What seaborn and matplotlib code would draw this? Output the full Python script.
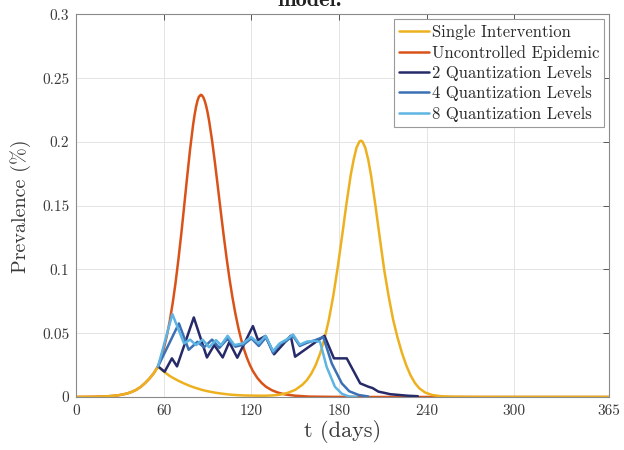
import matplotlib
matplotlib.use("Agg")
import matplotlib.pyplot as plt
import seaborn as sns

# ---- data -------------------------------------------------------------
uncontrolled_day = [0, 6, 12, 18, 22, 26, 29, 32, 35, 38,
                    41, 44, 47, 50, 53, 56, 58, 60, 62, 64,
                    66, 68, 70, 72, 74, 76, 78, 80, 81, 82,
                    83, 84, 85.3, 86, 87, 88, 89, 90, 91, 93,
                    95, 97, 99, 101, 103, 105, 107, 109, 111, 113,
                    115, 117, 119, 121, 124, 127, 130, 134, 138, 143,
                    150, 160, 175, 200, 250, 365]
uncontrolled_prev = [0.00005, 0.0001, 0.0002, 0.0004, 0.0006, 0.0010, 0.0014, 0.0020, 0.0028, 0.0040,
                     0.0056, 0.0078, 0.0108, 0.0143, 0.0185, 0.0241, 0.0305, 0.0383, 0.0479, 0.0594,
                     0.0734, 0.0896, 0.1083, 0.1288, 0.1509, 0.1733, 0.1947, 0.2133, 0.2210, 0.2274,
                     0.2323, 0.2355, 0.2370, 0.2367, 0.2351, 0.2322, 0.2281, 0.2228, 0.2165, 0.2013,
                     0.1836, 0.1646, 0.1452, 0.1264, 0.1087, 0.0924, 0.0780, 0.0653, 0.0543, 0.0449,
                     0.0370, 0.0304, 0.0249, 0.0203, 0.0150, 0.0110, 0.0080, 0.0053, 0.0035, 0.0020,
                     0.0010, 0.0003, 0.0001, 0.0, 0.0, 0.0]

single_day = [0, 6, 12, 18, 22, 26, 29, 32, 35, 38, 41, 44, 47, 50, 53, 56,
              58, 61, 64, 67, 70, 74, 78, 82, 86, 90,
              95, 100, 105, 110, 115, 120, 125, 130, 135, 140,
              145, 150, 155, 158, 161, 164, 167, 170, 173, 176,
              179, 182, 185, 188, 190, 192, 194, 195, 196, 198,
              200, 202, 205, 208, 211, 214, 217, 220, 223, 226,
              229, 232, 235, 239, 244, 250, 258, 270, 300, 365]
single_prev = [0.00005, 0.0001, 0.0002, 0.0004, 0.0006, 0.0010, 0.0014, 0.0020, 0.0028, 0.0040,
               0.0056, 0.0078, 0.0108, 0.0143, 0.0185, 0.0241,
               0.0218, 0.0190, 0.0165, 0.0145, 0.0127, 0.0105, 0.0086, 0.0070, 0.0056, 0.0045,
               0.0034, 0.0026, 0.0019, 0.0015, 0.0012, 0.0011, 0.0010, 0.0010, 0.0013, 0.0019,
               0.0033, 0.0056, 0.0097, 0.0133, 0.0183, 0.0250, 0.0339, 0.0455, 0.0604, 0.0789,
               0.1009, 0.1254, 0.1508, 0.1740, 0.1860, 0.1956, 0.2004, 0.2010, 0.2004, 0.1955,
               0.1862, 0.1734, 0.1497, 0.1242, 0.0994, 0.0790, 0.0610, 0.0470, 0.0350, 0.0250,
               0.0170, 0.0110, 0.0068, 0.0035, 0.0015, 0.0006, 0.0002, 0.00005, 0.0, 0.0]

q2_day = [56, 60.5, 65.5, 69, 80.5, 89.5, 94.5, 100.3, 104.8, 110.3,
          121, 124.5, 129.5, 135.5, 146.9, 149.9, 170, 176.5, 185.3, 194.5,
          200, 203, 207, 212, 215, 221, 227, 234]
q2_prev = [0.0240, 0.0198, 0.0303, 0.0240, 0.0624, 0.0310, 0.0407, 0.0310, 0.0430, 0.0308,
           0.0556, 0.0446, 0.0478, 0.0335, 0.0480, 0.0316, 0.0480, 0.0303, 0.0303, 0.0107,
           0.0081, 0.0070, 0.0042, 0.0030, 0.0022, 0.0016, 0.0010, 0.0006]

q4_day = [56, 70.3, 77, 83, 87.5, 93, 98, 103.5, 109, 114.5,
          120, 125, 130.1, 134.8, 139.3, 143.9, 148.5, 153.1, 158, 163.5,
          169.2, 175, 181.9, 187, 193.4, 200]
q4_prev = [0.0240, 0.0577, 0.0370, 0.0433, 0.0390, 0.0450, 0.0385, 0.0455, 0.0395, 0.0410,
           0.0460, 0.0400, 0.0470, 0.0345, 0.0415, 0.0440, 0.0480, 0.0400, 0.0425, 0.0445,
           0.0470, 0.0264, 0.0107, 0.0045, 0.0016, 0.0004]

q8_day = [56, 65.8, 73.8, 78, 82, 86.5, 91, 95.7, 99.1, 103.7,
          108.3, 114, 119.8, 125, 129.7, 134.8, 139.3, 143.9, 148.5, 153.1,
          158, 163, 167, 171.5, 177.2, 182, 186.5, 192]
q8_prev = [0.0240, 0.0650, 0.0420, 0.0450, 0.0407, 0.0450, 0.0390, 0.0446, 0.0407, 0.0480,
           0.0407, 0.0420, 0.0470, 0.0420, 0.0480, 0.0360, 0.0420, 0.0450, 0.0490, 0.0410,
           0.0435, 0.0440, 0.0433, 0.0237, 0.0080, 0.0025, 0.0005, 0.0]

series_labels = ["Single Intervention", "Uncontrolled Epidemic",
                 "2 Quantization Levels", "4 Quantization Levels",
                 "8 Quantization Levels"]
series_colors = ["#EDB120", "#D95319", "#262a68", "#3c70b4", "#5eb4e2"]

xticks = [0, 60, 120, 180, 240, 300, 365]
xtick_labels = ["0", "60", "120", "180", "240", "300", "365"]
yticks = [0, 0.05, 0.1, 0.15, 0.2, 0.25, 0.3]
ytick_labels = ["0", "0.05", "0.1", "0.15", "0.2", "0.25", "0.3"]

# ---- style ------------------------------------------------------------
sns.set_theme(style="whitegrid")
plt.rcParams["font.family"] = ["cmr10", "DejaVu Serif"]
plt.rcParams["mathtext.fontset"] = "cm"
plt.rcParams["axes.formatter.use_mathtext"] = True

fig = plt.figure(figsize=(6.24, 4.5), dpi=100)
ax = fig.add_axes([0.1223, 0.1178, 0.8537, 0.850])

series = {
    series_labels[0]: (single_day, single_prev),
    series_labels[1]: (uncontrolled_day, uncontrolled_prev),
    series_labels[2]: (q2_day, q2_prev),
    series_labels[3]: (q4_day, q4_prev),
    series_labels[4]: (q8_day, q8_prev),
}
color_of = dict(zip(series_labels, series_colors))

# uncontrolled curve underneath, single intervention over it, controls on top
draw_order = [series_labels[1], series_labels[0],
              series_labels[2], series_labels[3], series_labels[4]]
handles = {}
for name in draw_order:
    d, p = series[name]
    sns.lineplot(x=d, y=p, ax=ax, color=color_of[name], linewidth=1.8,
                 estimator=None, sort=False, label=name)
    handles[name] = ax.lines[-1]

ax.set_xlim(0, 365)
ax.set_ylim(0, 0.3)
ax.set_xticks(xticks, xtick_labels)
ax.set_yticks(yticks, ytick_labels)
ax.grid(True, color="#e4e4e4", linewidth=0.7)
ax.set_axisbelow(True)
ax.tick_params(direction="in", length=4, width=0.7, top=True, right=True,
               labelsize=11, labelcolor="#3a3a3a", color="#555555", pad=5)
for s in ax.spines.values():
    s.set_visible(True)
    s.set_color("#8a8a8a")
    s.set_linewidth(0.8)

ax.set_xlabel("t (days)", fontsize=16, color="#3a3a3a", labelpad=2)
ax.set_ylabel("Prevalence (%)", fontsize=14.5, color="#3a3a3a", labelpad=8)

leg = ax.legend([handles[n] for n in series_labels], series_labels,
                loc="upper right", fontsize=12, frameon=True, fancybox=False,
                edgecolor="#9a9a9a", framealpha=1.0, handlelength=1.8,
                handletextpad=0.15, borderpad=0.3, labelspacing=0.3,
                borderaxespad=0.3)
leg.get_frame().set_linewidth(0.8)
for t in leg.get_texts():
    t.set_color("#2a2a2a")

fig.text(0.497, 0.987, "model.", ha="center", va="baseline", fontsize=16,
         family=["cmb10", "DejaVu Serif"], color="#222222")

fig.savefig("out.png", dpi=100)
